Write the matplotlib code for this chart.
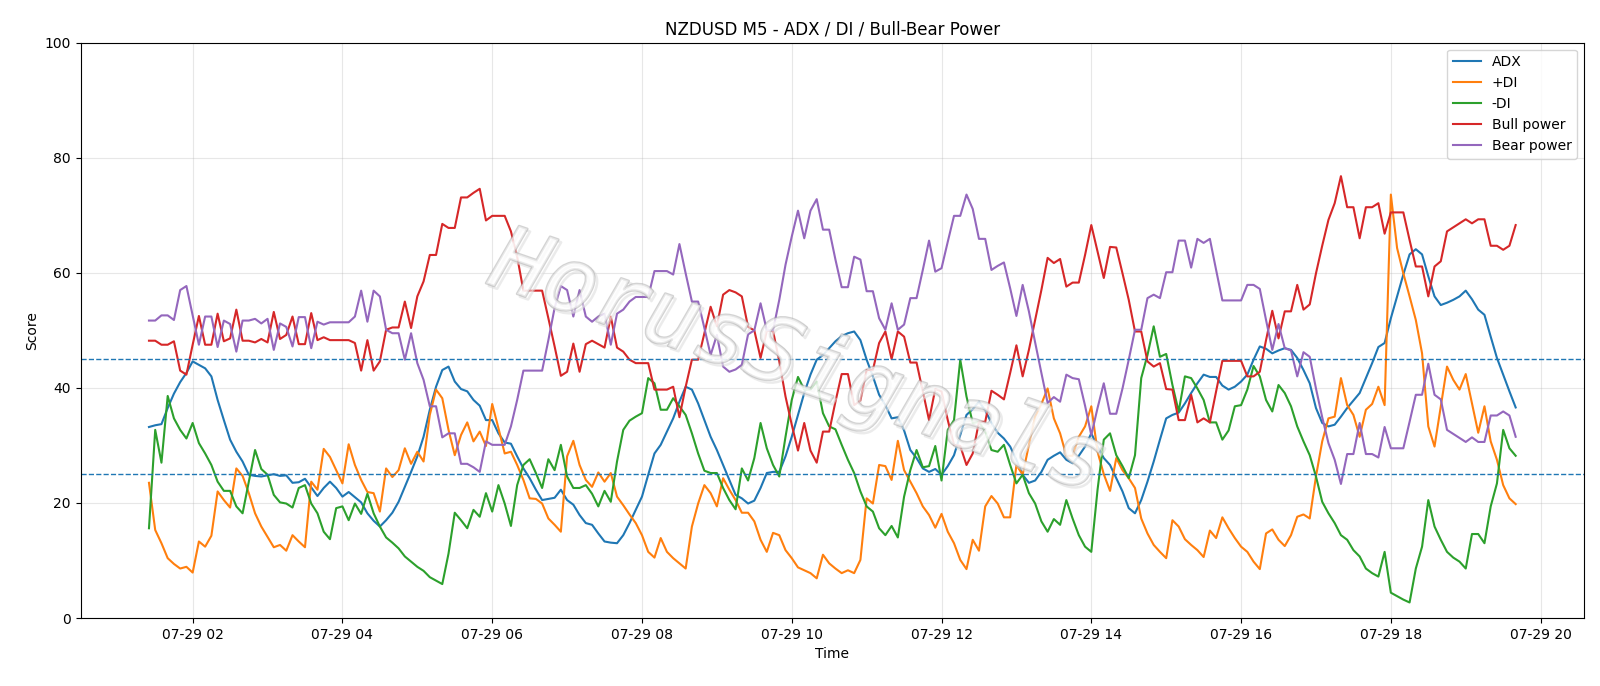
import numpy as np
import pandas as pd
import matplotlib
matplotlib.use('Agg')
import matplotlib.pyplot as plt
import matplotlib.patheffects as pe

# 5-minute bars, 07-29 01:25 .. 19:40
times = pd.date_range('2025-07-29 01:25', periods=220, freq='5min')

adx = [33.2, 33.5, 33.7, 36.5, 39, 41, 42.6, 44.6, 44, 43.4, 42, 37.9, 34.4, 31, 28.9, 27.2,
       24.9, 24.7, 24.6, 24.8, 25, 24.7, 24.8, 23.5, 23.6, 24.2, 22.7, 21.2, 22.6, 23.7, 22.6, 21.1,
       21.9, 21, 20.1, 18.2, 16.9, 15.9, 17, 18.3, 20.2, 22.8, 25.4, 28.1, 31.5, 36.2, 40.2, 43.1,
       43.7, 41.1, 39.8, 39.4, 37.9, 36.9, 34.4, 34.4, 32.1, 30.5, 30.3, 28.1, 26, 24.3, 22.3, 20.5,
       20.7, 20.9, 22.3, 20.5, 19.7, 17.9, 16.5, 16.2, 14.7, 13.3, 13.1, 13, 14.4, 16.5, 18.8, 21.1,
       24.9, 28.6, 30.1, 32.4, 34.7, 37.6, 40.2, 39.7, 37.3, 34.4, 31.5, 29.2, 26.6, 24, 21.4, 20.8,
       19.9, 20.4, 22.6, 25.2, 25.4, 25.4, 28.1, 31.5, 35.3, 39.1, 42.3, 44.9, 45.7, 46.9, 48.1, 49,
       49.5, 49.8, 48.3, 44.9, 42, 38.8, 37, 34.7, 34.9, 32.6, 29.2, 27.8, 26, 25.4, 25.9, 24.9,
       26.4, 28.3, 31.8, 35.3, 36.3, 37.6, 36.1, 33.9, 32.2, 31.2, 29.8, 27.5, 24.9, 23.5, 23.9, 25.4,
       27.5, 28.2, 28.8, 27.5, 26.9, 28.2, 29.8, 32.1, 29.8, 27.8, 26.6, 24.3, 22, 19.1, 18.2, 20.5,
       23.7, 27.2, 31, 34.7, 35.3, 35.7, 37.3, 39.1, 40.8, 42.3, 41.9, 41.9, 40.4, 39.7, 40.2, 41.1,
       42.3, 44.9, 47.2, 46.8, 46, 46.5, 46.9, 46.6, 45.2, 43.1, 40.8, 36.5, 33.9, 33.3, 33.6, 35,
       36.5, 37.8, 39.1, 41.7, 44.3, 47.1, 47.8, 52.1, 55.9, 59.7, 63.2, 64.1, 63.2, 59.4, 55.9, 54.4,
       54.8, 55.3, 55.9, 56.9, 55.4, 53.6, 52.7, 48.9, 45.2, 42.3, 39.4, 36.6]

plus_di = [23.5, 15.3, 13, 10.4, 9.4, 8.6, 8.9, 7.9, 13.3, 12.4, 14.3, 22, 20.5, 19.2, 26, 24.7,
           21.7, 18.2, 15.9, 14.1, 12.3, 12.7, 11.7, 14.4, 13.3, 12.3, 23.7, 22.3, 29.4, 28, 25.7, 23.4,
           30.2, 26.6, 24, 21.9, 21.7, 18.5, 26, 24.5, 25.7, 29.5, 26.8, 28.9, 27.2, 35.3, 39.7, 38.2,
           32.7, 28.3, 31.8, 34, 30.7, 32.4, 29.9, 37.2, 33, 28.6, 28.9, 26.6, 24, 20.8, 20.7, 19.9,
           17.3, 16.2, 15, 28.1, 30.8, 26.6, 24, 22.8, 25.3, 23.7, 25.2, 21.1, 19.6, 18, 16.5, 14.4,
           11.5, 10.5, 13.9, 11.5, 10.4, 9.5, 8.6, 15.9, 19.9, 23.1, 21.7, 19.4, 24.3, 22.3, 20.5, 18.3,
           18.3, 16.8, 13.6, 11.5, 14.8, 14.4, 11.8, 10.4, 8.8, 8.3, 7.8, 6.9, 11, 9.5, 8.6, 7.8,
           8.3, 7.8, 10.1, 20.8, 19.9, 26.6, 26.4, 24, 30.8, 25.7, 23.7, 21.7, 19.4, 17.9, 15.7, 18.1,
           15, 13, 10.1, 8.5, 13.6, 11.7, 19.4, 21.2, 19.9, 17.5, 17.5, 26.6, 24.9, 30.1, 35, 37.2,
           39.9, 34.7, 32.1, 28.2, 28.2, 31.5, 33.3, 36.8, 28.9, 25, 22.1, 27.8, 25.7, 24.3, 22.6, 17.3,
           14.7, 12.7, 11.5, 10.4, 17, 15.9, 13.7, 12.7, 11.8, 10.6, 15.2, 13.9, 17.5, 15.6, 13.9, 12.4,
           11.5, 9.8, 8.5, 14.7, 15.4, 13.6, 12.5, 14.4, 17.6, 18, 17.3, 24.6, 30.7, 34.7, 35, 41.7,
           37, 35.3, 31.5, 36.2, 37.2, 40.2, 37, 73.6, 64.3, 59.9, 55.9, 51.8, 46, 33.3, 29.8, 36.8,
           43.7, 41.4, 39.7, 42.4, 37.3, 32.2, 36.8, 30.7, 27.5, 23.1, 20.8, 19.8]

minus_di = [15.6, 32.7, 27, 38.6, 34.7, 32.7, 31.2, 33.9, 30.4, 28.6, 26.6, 23.7, 22.1, 22.1, 19.4, 18.2,
            23.7, 29.2, 25.9, 24.9, 21.4, 20.1, 19.9, 19.2, 22.6, 23.1, 19.9, 18.2, 15, 13.7, 19.1, 19.4,
            17, 19.9, 18.1, 21.6, 18.2, 15.9, 14, 13.1, 12.1, 10.7, 9.8, 8.9, 8.2, 7.1, 6.5, 5.9,
            11.2, 18.3, 17, 15.6, 18.8, 17.6, 21.7, 18.5, 23.1, 19.9, 16, 23.1, 26.6, 27.6, 25.2, 22.6,
            27.6, 25.7, 30.1, 24.6, 22.6, 22.6, 23.1, 21.6, 19.4, 22.1, 20.2, 27.2, 32.7, 34.3, 35, 35.6,
            41.7, 40.8, 36.2, 36.2, 38.2, 36.8, 35.3, 32.1, 28.6, 25.6, 25.2, 25.2, 22.6, 20.5, 18.9, 26,
            23.9, 27.8, 33.9, 29.5, 26.6, 24.6, 31.5, 37.9, 41.9, 39.7, 39.7, 41.1, 35.6, 33.3, 32.8, 30.1,
            27.5, 25.2, 22, 19.4, 18.5, 15.6, 14.4, 16, 14, 21.1, 25.7, 29.2, 26.2, 26.4, 29.9, 23.9,
            32.7, 34.4, 44.9, 38.5, 33.9, 34.1, 32.4, 29.2, 28.9, 30.1, 26.6, 23.4, 24.9, 21.7, 19.9, 16.8,
            15, 17.2, 16.2, 20.5, 17.3, 14.4, 12.4, 11.5, 22.3, 31, 32.1, 28.3, 26.4, 24.3, 28.3, 41.7,
            45.7, 50.7, 45.4, 45.9, 40.5, 35.9, 42, 41.7, 39.9, 37.9, 34, 34, 31, 32.6, 36.8, 37,
            39.7, 43.8, 42, 37.9, 35.9, 40.5, 39.1, 36.8, 33.3, 30.7, 28.3, 24.6, 20.2, 18.2, 16.5, 14.4,
            13.6, 11.8, 10.7, 8.6, 7.8, 7.2, 11.5, 4.4, 3.8, 3.2, 2.7, 8.6, 12.4, 20.5, 15.9, 13.6,
            11.5, 10.5, 9.8, 8.6, 14.6, 14.6, 13, 19.4, 23.4, 32.7, 29.5, 28.2]

bull = [48.2, 48.2, 47.5, 47.5, 48.1, 43, 42.3, 47.5, 52.5, 47.5, 47.5, 52.9, 48.1, 48.6, 53.6, 48.2,
        48.2, 47.9, 48.5, 47.9, 53.2, 48.5, 49.2, 52.4, 47.6, 47.6, 53, 48.3, 48.8, 48.3, 48.3, 48.3,
        48.3, 47.8, 43, 48.3, 43, 44.6, 50.1, 50.5, 50.5, 55, 50.4, 55.9, 58.5, 63.1, 63.1, 68.5,
        67.8, 67.8, 73.1, 73.1, 73.9, 74.6, 69.1, 69.9, 69.9, 69.9, 67.2, 62.8, 56.9, 56.9, 56.9, 56.9,
        52.1, 47.2, 42.1, 42.8, 47.7, 42.8, 47.6, 48.2, 47.6, 47, 52.4, 47, 46.3, 44.9, 44.3, 44.3,
        44.3, 39.7, 39.7, 39.7, 40.2, 34.9, 40.2, 44.9, 44.9, 49.5, 54.1, 50.7, 56.2, 57, 56.6, 55.9,
        50.6, 50, 45.2, 49.9, 49.9, 44.6, 38.5, 33.6, 29.1, 33.9, 29.1, 27, 32.4, 32.4, 37.6, 42.4,
        42.4, 37, 37.8, 43.1, 43.1, 47.8, 49.8, 45, 49.8, 48.9, 44.4, 44.4, 39.4, 34.4, 39.8, 39.4,
        34.4, 30.1, 29.9, 26.6, 28.6, 34.1, 34.1, 39.5, 38.8, 38, 42.6, 47.4, 42, 46.6, 51.8, 57,
        62.6, 61.7, 62.4, 57.6, 58.3, 58.3, 63.1, 68.3, 63.7, 59.1, 64.5, 64.4, 59.9, 55.3, 49.8, 49.8,
        44.6, 43.7, 44.3, 39.8, 39.7, 34.4, 34.4, 38.8, 34, 34.7, 34, 39.4, 44.7, 44.7, 44.7, 44.7,
        42, 42, 42.8, 48.3, 53.4, 48.6, 53.3, 53.3, 57.9, 53.6, 54.5, 59.9, 64.7, 69.2, 72.1, 76.8,
        71.4, 71.4, 66, 71.4, 71.4, 72.1, 66.8, 70.5, 70.5, 70.5, 65.7, 61.1, 61.1, 55.9, 61.1, 62,
        67.2, 67.9, 68.6, 69.3, 68.6, 69.3, 69.3, 64.7, 64.7, 64, 64.7, 68.3]

bear = [51.7, 51.7, 52.6, 52.6, 51.8, 57, 57.7, 52.6, 47.5, 52.4, 52.4, 47.1, 51.7, 51.1, 46.3, 51.7,
        51.7, 52, 51.2, 52, 46.6, 51.2, 50.6, 47.2, 52.3, 52.3, 46.9, 51.5, 51, 51.4, 51.4, 51.4,
        51.4, 52.4, 56.9, 51.5, 56.9, 55.9, 50.1, 49.5, 49.5, 44.9, 49.5, 44.3, 41.4, 36.8, 36.8, 31.4,
        32.1, 32.1, 26.8, 26.8, 26.2, 25.4, 30.7, 30.1, 30.1, 30.1, 33.3, 37.9, 43, 43, 43, 43,
        48.3, 53.9, 57.7, 57, 52.4, 57, 52.4, 51.5, 52.4, 52.9, 47.5, 52.9, 53.6, 55, 55.8, 55.8,
        55.8, 60.3, 60.3, 60.3, 59.7, 65, 59.9, 55, 55, 50.4, 45.7, 49.2, 43.7, 42.8, 43.2, 44,
        49.3, 50, 54.7, 50, 50, 55.3, 61.4, 66.3, 70.8, 66, 70.8, 72.8, 67.5, 67.5, 62.3, 57.5,
        57.5, 62.8, 62.3, 56.8, 56.8, 52.1, 50.1, 54.7, 50.1, 51, 55.6, 55.6, 60.5, 65.6, 60.2, 60.8,
        65.4, 69.9, 69.9, 73.6, 71.1, 65.9, 65.9, 60.5, 61.2, 61.8, 57.3, 52.5, 57.9, 53.3, 47.9, 42.6,
        37.4, 38.4, 37.6, 42.3, 41.7, 41.5, 36.9, 31.8, 36.5, 40.8, 35.5, 35.5, 39.9, 44.9, 50.1, 50.1,
        55.6, 56.2, 55.6, 60.1, 60.1, 65.6, 65.6, 60.9, 65.9, 65.2, 65.9, 60.5, 55.2, 55.2, 55.2, 55.2,
        57.9, 57.9, 57.2, 51.8, 46.6, 51.1, 46.9, 46.5, 42, 46.2, 45.4, 39.9, 34.9, 30.4, 27.5, 23.3,
        28.5, 28.5, 33.9, 28.5, 28.5, 27.9, 33.2, 29.5, 29.5, 29.5, 34.1, 38.8, 38.8, 44.2, 38.8, 38,
        32.7, 32, 31.3, 30.6, 31.4, 30.6, 30.6, 35.2, 35.2, 35.9, 35.2, 31.5]

fig = plt.figure(figsize=(16, 6.86), dpi=100)
ax = fig.add_axes([0.0504, 0.0991, 0.9396, 0.8387])

ax.plot(times, adx, label='ADX', lw=1.5)
ax.plot(times, plus_di, label='+DI', lw=1.5)
ax.plot(times, minus_di, label='-DI', lw=1.5)
ax.plot(times, bull, label='Bull power', lw=1.5)
ax.plot(times, bear, label='Bear power', lw=1.5)

ax.axhline(45, color='tab:blue', ls='--', lw=1)
ax.axhline(25, color='tab:blue', ls='--', lw=1)

ax.set_ylim(0, 100)
ax.set_title('NZDUSD M5 - ADX / DI / Bull-Bear Power')
ax.set_xlabel('Time')
ax.set_ylabel('Score')
ax.grid(True, alpha=0.3)
ax.legend(loc='upper right')

# watermark (hollow grey letters)
ax.text(0.477, 0.44, 'HorusSignals', transform=ax.transAxes, fontsize=64,
        family='DejaVu Sans Mono', fontstyle='italic', rotation=-19,
        ha='center', va='center', color='white', alpha=0.5, zorder=5,
        path_effects=[pe.Stroke(linewidth=1.8, foreground='#d8d8d8', offset=(2, -2)),
                      pe.withStroke(linewidth=1.8, foreground='#a8a8a8')])

fig.savefig('out.png', dpi=100)
